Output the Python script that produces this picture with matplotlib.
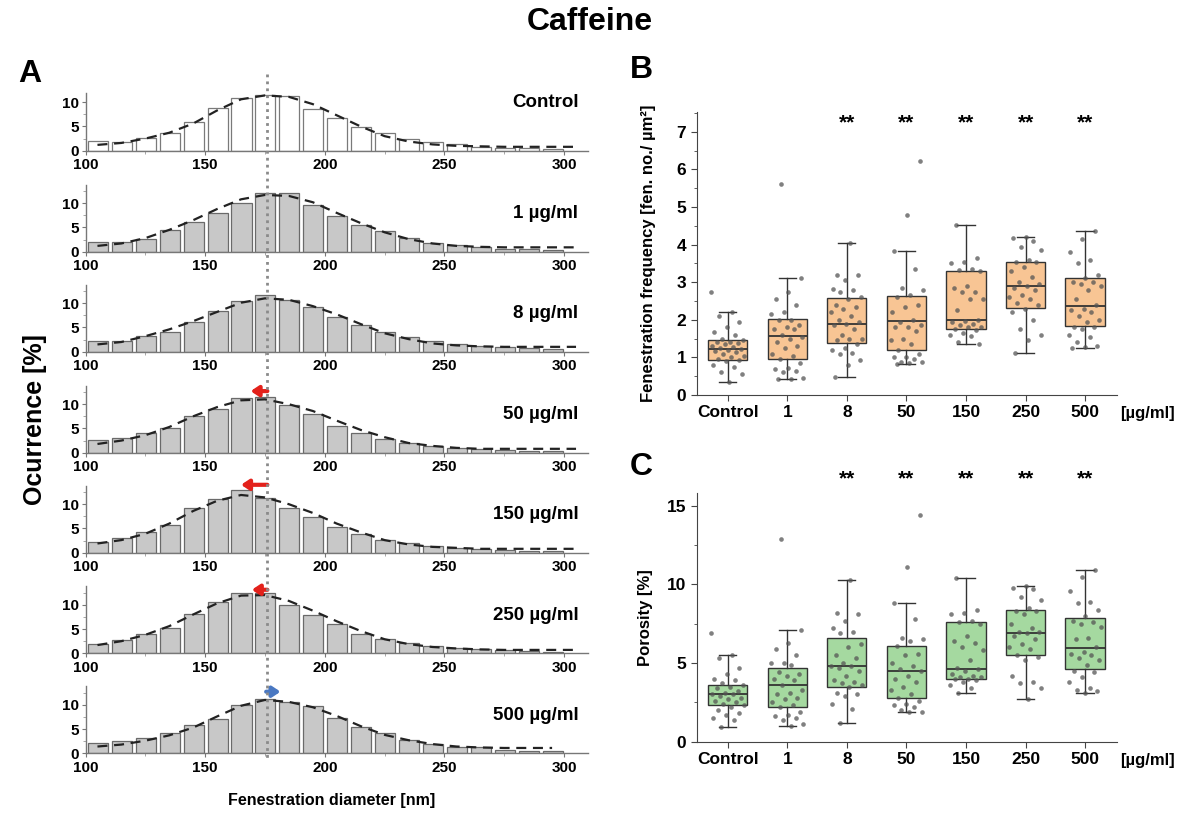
import numpy as np
import matplotlib
matplotlib.use("Agg")
import matplotlib.pyplot as plt
from matplotlib.lines import Line2D
from matplotlib.transforms import blended_transform_factory
from matplotlib.ticker import MultipleLocator

plt.rcParams['font.family'] = ['Liberation Sans', 'DejaVu Sans']
plt.rcParams['font.weight'] = 'bold'
plt.rcParams['axes.labelweight'] = 'bold'

# ---- data: panel A (histograms of fenestration diameter, % per 10 nm bin) ----
bin_left = np.arange(100, 300, 10)
fit_x = np.arange(105, 310, 10)
row_names = ["Control", "1 µg/ml", "8 µg/ml", "50 µg/ml",
             "150 µg/ml", "250 µg/ml", "500 µg/ml"]
h_control = [1.9, 1.8, 2.7, 3.6, 5.9, 8.8, 10.9, 11.4, 11.2, 8.5, 6.7, 4.8, 3.7, 2.4, 1.8, 1.3, 0.8, 0.6, 0.6, 0.3]
h_1 = [2.1, 2.1, 2.7, 4.5, 6.2, 8.0, 10.0, 12.2, 12.2, 9.7, 7.4, 5.6, 4.3, 2.9, 1.8, 1.3, 1.0, 0.6, 0.5, 0.4]
h_8 = [2.2, 2.3, 3.3, 4.1, 6.2, 8.3, 10.5, 11.6, 10.7, 9.2, 7.1, 5.5, 4.1, 3.0, 2.3, 1.5, 1.2, 0.9, 0.7, 0.6]
h_50 = [2.7, 3.1, 4.0, 5.1, 7.5, 9.0, 11.3, 11.5, 9.9, 7.9, 5.5, 4.0, 2.9, 2.0, 1.4, 1.0, 0.7, 0.6, 0.4, 0.3]
h_150 = [2.3, 3.0, 4.2, 5.8, 9.2, 11.0, 13.0, 11.3, 9.2, 7.3, 5.2, 3.8, 2.7, 2.0, 1.3, 1.0, 0.7, 0.5, 0.35, 0.3]
h_250 = [2.0, 2.7, 3.9, 5.2, 8.1, 10.6, 12.4, 12.4, 9.9, 7.9, 6.0, 4.0, 3.0, 2.1, 1.5, 1.1, 0.9, 0.6, 0.4, 0.3]
h_500 = [2.2, 2.6, 3.2, 4.2, 5.8, 7.1, 10.0, 11.2, 10.5, 9.8, 7.2, 5.4, 4.2, 2.8, 2.0, 1.4, 1.2, 0.7, 0.5, 0.5]

f_control = [1.2, 1.6, 2.5, 3.7, 5.6, 8.3, 10.6, 11.4, 11.1, 9.6, 7.3, 5.0, 3.0, 1.9, 1.3, 1.0, 0.9, 0.8, 0.8, 0.8, 0.8]
f_1 = [1.2, 1.7, 2.8, 4.5, 6.5, 8.8, 10.8, 11.7, 11.5, 10.2, 8.0, 5.9, 4.0, 2.6, 1.7, 1.2, 1.0, 0.9, 0.9, 0.9, 0.9]
f_8 = [1.5, 2.0, 3.2, 4.6, 6.3, 8.2, 10.1, 11.0, 10.7, 9.4, 7.7, 5.7, 3.8, 2.6, 1.7, 1.3, 1.1, 1.0, 1.0, 1.0, 1.0]
f_50 = [1.8, 2.5, 3.6, 5.3, 7.5, 9.4, 10.8, 11.0, 10.0, 8.6, 6.6, 4.7, 3.2, 2.0, 1.4, 1.0, 0.8, 0.8, 0.8, 0.8, 0.8]
f_150 = [1.9, 2.6, 3.9, 6.0, 8.6, 10.7, 11.9, 11.4, 10.0, 8.2, 6.0, 4.2, 2.6, 1.7, 1.2, 1.0, 0.8, 0.8, 0.8, 0.8, 0.8]
f_250 = [1.7, 2.5, 3.8, 5.6, 8.0, 10.3, 11.9, 12.0, 10.8, 8.8, 6.6, 4.6, 2.9, 1.9, 1.3, 1.0, 0.8, 0.7, 0.7, 0.7, 0.7]
f_500 = [1.4, 1.8, 2.6, 3.7, 5.3, 7.6, 9.8, 11.0, 10.6, 9.5, 7.7, 5.6, 3.8, 2.7, 1.9, 1.4, 1.2, 1.1, 1.1, 1.1]

hists = [h_control, h_1, h_8, h_50, h_150, h_250, h_500]
fits = [f_control, f_1, f_8, f_50, f_150, f_250, f_500]
peak_ref = 176  # nm, dotted reference line (control peak)

# shift arrows (row index, from, to, height)
arrow_rows = [3, 4, 5, 6]
arrow_from = [176, 176, 176, 175.5]
arrow_to = [169, 165, 169.5, 181.5]
arrow_y = [12.7, 14.0, 13.1, 12.7]
arrow_col = ['#e3211b', '#e3211b', '#e3211b', '#4a78c2']

# ---- data: panels B and C (box plots) ----
groups = ["Control", "1", "8", "50", "150", "250", "500"]
stars = ["", "", "**", "**", "**", "**", "**"]

freq_lo = [0.35, 0.42, 0.48, 0.83, 1.35, 1.13, 1.25]
freq_q1 = [0.92, 0.95, 1.37, 1.20, 1.75, 2.32, 1.83]
freq_med = [1.22, 1.57, 1.88, 1.97, 2.00, 2.90, 2.37]
freq_q3 = [1.45, 2.03, 2.58, 2.63, 3.30, 3.55, 3.12]
freq_hi = [2.20, 3.10, 4.03, 3.82, 4.53, 4.20, 4.35]
freq_pts = [
    [2.75, 2.2, 2.1, 1.95, 1.82, 1.68, 1.6, 1.5, 1.45, 1.42, 1.4, 1.38, 1.35, 1.3, 1.28, 1.25,
     1.22, 1.2, 1.18, 1.15, 1.1, 1.05, 1.0, 0.95, 0.92, 0.9, 0.8, 0.75, 0.6, 0.55, 0.35],
    [5.6, 3.1, 2.75, 2.55, 2.4, 2.2, 2.15, 2.0, 2.0, 1.85, 1.8, 1.75, 1.75, 1.6, 1.55, 1.5,
     1.4, 1.3, 1.25, 1.1, 1.05, 0.95, 0.85, 0.72, 0.7, 0.65, 0.6, 0.45, 0.42, 0.42],
    [4.03, 3.2, 3.18, 3.05, 2.82, 2.8, 2.75, 2.6, 2.55, 2.4, 2.35, 2.3, 2.2, 2.1, 2.0, 1.95,
     1.88, 1.85, 1.75, 1.6, 1.5, 1.5, 1.45, 1.35, 1.25, 1.2, 1.12, 1.1, 0.93, 0.8, 0.48],
    [6.22, 4.8, 3.82, 3.35, 2.85, 2.8, 2.65, 2.6, 2.4, 2.35, 2.2, 2.0, 1.95, 1.85, 1.8, 1.8,
     1.7, 1.5, 1.45, 1.35, 1.2, 1.1, 1.02, 1.0, 0.95, 0.88, 0.87, 0.85, 0.83],
    [4.53, 3.65, 3.55, 3.5, 3.35, 3.33, 3.3, 2.9, 2.85, 2.75, 2.75, 2.55, 2.55, 2.25, 2.0, 1.98,
     1.95, 1.9, 1.85, 1.82, 1.8, 1.75, 1.72, 1.65, 1.6, 1.58, 1.4, 1.35],
    [4.2, 4.18, 4.1, 3.95, 3.85, 3.6, 3.55, 3.55, 3.4, 3.3, 3.15, 3.0, 2.95, 2.9, 2.85, 2.8,
     2.65, 2.6, 2.55, 2.45, 2.4, 2.3, 2.2, 2.0, 1.75, 1.6, 1.45, 1.13],
    [4.35, 4.15, 3.8, 3.6, 3.5, 3.2, 3.1, 3.0, 3.0, 2.95, 2.9, 2.8, 2.55, 2.4, 2.3, 2.25,
     2.2, 2.1, 2.0, 1.95, 1.8, 1.8, 1.75, 1.6, 1.55, 1.4, 1.3, 1.28, 1.25],
]

por_lo = [0.9, 1.0, 1.2, 1.9, 3.1, 2.7, 3.1]
por_q1 = [2.3, 2.2, 3.5, 2.75, 4.0, 5.5, 4.6]
por_med = [3.0, 3.6, 4.8, 4.5, 4.6, 6.9, 5.95]
por_q3 = [3.6, 4.65, 6.6, 6.1, 7.6, 8.4, 7.85]
por_hi = [5.5, 7.1, 10.3, 8.8, 10.4, 9.9, 10.9]
por_pts = [
    [6.9, 5.5, 5.3, 4.7, 4.3, 4.0, 3.9, 3.7, 3.6, 3.5, 3.4, 3.2, 3.1, 3.0, 3.0, 2.9, 2.8,
     2.7, 2.6, 2.5, 2.4, 2.3, 2.2, 2.0, 1.8, 1.7, 1.5, 1.4, 0.9],
    [12.9, 7.1, 6.3, 5.9, 5.5, 5.0, 5.0, 4.9, 4.4, 4.3, 4.2, 4.0, 3.9, 3.6, 3.3, 3.1, 3.0,
     2.8, 2.7, 2.5, 2.3, 2.2, 1.9, 1.7, 1.6, 1.5, 1.4, 1.1, 1.0],
    [10.3, 8.2, 8.1, 7.7, 7.2, 7.0, 6.9, 6.2, 6.0, 5.5, 5.3, 5.0, 4.8, 4.8, 4.7, 4.5, 4.2,
     3.9, 3.8, 3.7, 3.6, 3.5, 3.1, 3.0, 2.9, 2.4, 2.1, 1.2],
    [14.4, 11.1, 8.8, 7.8, 6.6, 6.5, 6.4, 6.1, 5.6, 5.5, 5.0, 4.8, 4.6, 4.5, 4.2, 4.0, 3.8,
     3.5, 3.3, 3.0, 2.8, 2.6, 2.4, 2.3, 2.2, 2.0, 1.9, 1.9],
    [10.4, 8.4, 8.2, 8.1, 7.7, 7.6, 7.5, 6.7, 6.4, 6.3, 6.0, 5.8, 5.2, 4.7, 4.6, 4.5, 4.3,
     4.2, 4.1, 4.1, 4.0, 4.0, 3.9, 3.8, 3.6, 3.4, 3.1],
    [9.9, 9.8, 9.7, 9.2, 9.0, 8.5, 8.3, 8.3, 8.1, 7.5, 7.2, 7.0, 7.0, 6.9, 6.7, 6.5, 6.2,
     6.0, 5.9, 5.5, 5.4, 5.2, 4.2, 3.8, 3.7, 3.4, 2.7],
    [10.9, 10.5, 9.6, 8.9, 8.8, 8.4, 8.0, 7.7, 7.6, 7.5, 7.3, 6.6, 6.5, 6.0, 5.7, 5.6, 5.5,
     5.3, 5.2, 4.9, 4.5, 4.4, 4.1, 3.8, 3.4, 3.3, 3.2, 3.1],
]

W, H = 1180, 814
fig = plt.figure(figsize=(W / 100, H / 100), dpi=100)


def px_axes(left, top, right, bottom):
    # place an axes by its pixel box in the 1180x814 canvas
    return fig.add_axes([left / W, 1 - bottom / H, (right - left) / W, (bottom - top) / H])


# ---------------- panel A ----------------
row_base = [150.7, 251.7, 351.7, 452.7, 552.7, 653.3, 753.3]
px_per_unit = 4.85
hist_axes = []
for i, (h, f) in enumerate(zip(hists, fits)):
    ytop = 12 if i == 0 else 13.8
    ax = px_axes(85.5, row_base[i] - ytop * px_per_unit, 588, row_base[i])
    hist_axes.append(ax)
    if i == 0:
        ax.bar(bin_left + 5.2, h, width=8.4, color='white', edgecolor='#7a7a7a', lw=0.9)
    else:
        ax.bar(bin_left + 5.2, h, width=8.4, color='#c8c8c8', edgecolor='#6a6a6a', lw=0.9)
    ax.plot(fit_x[:len(f)], f, color='#222222', lw=1.6, dashes=(4.5, 3))
    ax.set_xlim(100, 310)
    ax.set_ylim(0, ytop)
    ax.set_xticks([100, 150, 200, 250, 300])
    ax.xaxis.set_minor_locator(MultipleLocator(25))
    ax.set_yticks([0, 5, 10])
    ax.yaxis.set_minor_locator(MultipleLocator(2.5))
    for s in ['top', 'right']:
        ax.spines[s].set_visible(False)
    for s in ['left', 'bottom']:
        ax.spines[s].set_color('#777777')
        ax.spines[s].set_linewidth(1.0)
    ax.tick_params(which='major', length=3, width=0.8, color='#777777', labelsize=11)
    ax.tick_params(axis='x', pad=2.5)
    ax.tick_params(axis='y', pad=1.5)
    ax.tick_params(which='minor', length=2, width=0.6, color='#999999')
    ax.text(306, 10 if i == 0 else 7.8, row_names[i], ha='right', va='center', fontsize=13.5)
    ax.patch.set_alpha(0)

for r, x0, x1, y, c in zip(arrow_rows, arrow_from, arrow_to, arrow_y, arrow_col):
    hist_axes[r].annotate('', xy=(x1, y), xytext=(x0, y), annotation_clip=False,
                          arrowprops=dict(arrowstyle='-|>,head_length=0.45,head_width=0.3',
                                          color=c, lw=3, shrinkA=0, shrinkB=0))

trans = blended_transform_factory(hist_axes[0].transData, fig.transFigure)
fig.add_artist(Line2D([peak_ref, peak_ref], [1 - 74 / H, 1 - 758 / H], transform=trans,
                      ls=(0, (1, 1.5)), color='#8a8a8a', lw=2, zorder=5))

fig.text(35 / W, 1 - 420 / H, "Ocurrence [%]", rotation=90, ha='center', va='center', fontsize=18)
fig.text(332 / W, 1 - 801 / H, "Fenestration diameter [nm]", ha='center', va='center', fontsize=11.5)


# ---------------- panels B and C ----------------
def box_panel(ax, lo, q1, med, q3, hi, pts, fill, ytop, major, minor, ylabel, star_y):
    stats = [dict(whislo=a, q1=b, med=c, q3=d, whishi=e, fliers=[])
             for a, b, c, d, e in zip(lo, q1, med, q3, hi)]
    pos = np.arange(len(groups))
    ax.bxp(stats, positions=pos, widths=0.66, capwidths=0.29, patch_artist=True,
           showfliers=False,
           boxprops=dict(facecolor=fill, edgecolor='#333333', lw=1.0),
           medianprops=dict(color='#333333', lw=1.3),
           whiskerprops=dict(color='#333333', lw=1.0),
           capprops=dict(color='#333333', lw=1.0))
    for k, p in enumerate(pts):
        n = len(p)
        jit = ((np.arange(n) * 0.618034 + 0.3 * k) % 1.0 - 0.5) * 0.56
        ax.scatter(pos[k] + jit, p, s=11, color='#555555', alpha=0.75, lw=0, zorder=4)
    for k, s in enumerate(stars):
        if s:
            ax.text(pos[k], star_y, s, ha='center', va='center', fontsize=15, clip_on=False)
    ax.set_xlim(-0.52, 6.53)
    ax.set_ylim(0, ytop)
    ax.set_xticks(pos)
    ax.set_xticklabels(groups)
    ax.yaxis.set_major_locator(MultipleLocator(major))
    ax.yaxis.set_minor_locator(MultipleLocator(minor))
    for s in ['top', 'right']:
        ax.spines[s].set_visible(False)
    for s in ['left', 'bottom']:
        ax.spines[s].set_color('#444444')
    ax.tick_params(which='major', length=4, labelsize=12.5, color='#444444')
    ax.tick_params(which='minor', length=2.5, color='#444444')
    ax.set_ylabel(ylabel, fontsize=12)
    ax.annotate("[µg/ml]", xy=(7.05, 0), xycoords=('data', 'axes fraction'),
                xytext=(0, -13.5), textcoords='offset points', ha='center', va='center',
                fontsize=12, annotation_clip=False)


axB = px_axes(696.7, 112.3, 1116.7, 395)
box_panel(axB, freq_lo, freq_q1, freq_med, freq_q3, freq_hi, freq_pts, '#f8c594',
          7.52, 1, 0.5, "Fenestration frequency [fen. no./ µm²]", 7.24)
axB.yaxis.set_label_coords(-0.098, 0.5)

axC = px_axes(696.7, 493.3, 1116.7, 741.5)
box_panel(axC, por_lo, por_q1, por_med, por_q3, por_hi, por_pts, '#a5d9a0',
          15.8, 5, 2.5, "Porosity [%]", 16.7)
axC.yaxis.set_label_coords(-0.105, 0.5)

# titles and panel letters
fig.text(590 / W, 1 - 22 / H, "Caffeine", ha='center', va='center', fontsize=23)
fig.text(30 / W, 1 - 74 / H, "A", ha='center', va='center', fontsize=23)
fig.text(641 / W, 1 - 70 / H, "B", ha='center', va='center', fontsize=23)
fig.text(641 / W, 1 - 467 / H, "C", ha='center', va='center', fontsize=23)

fig.savefig("out.png", dpi=100)
